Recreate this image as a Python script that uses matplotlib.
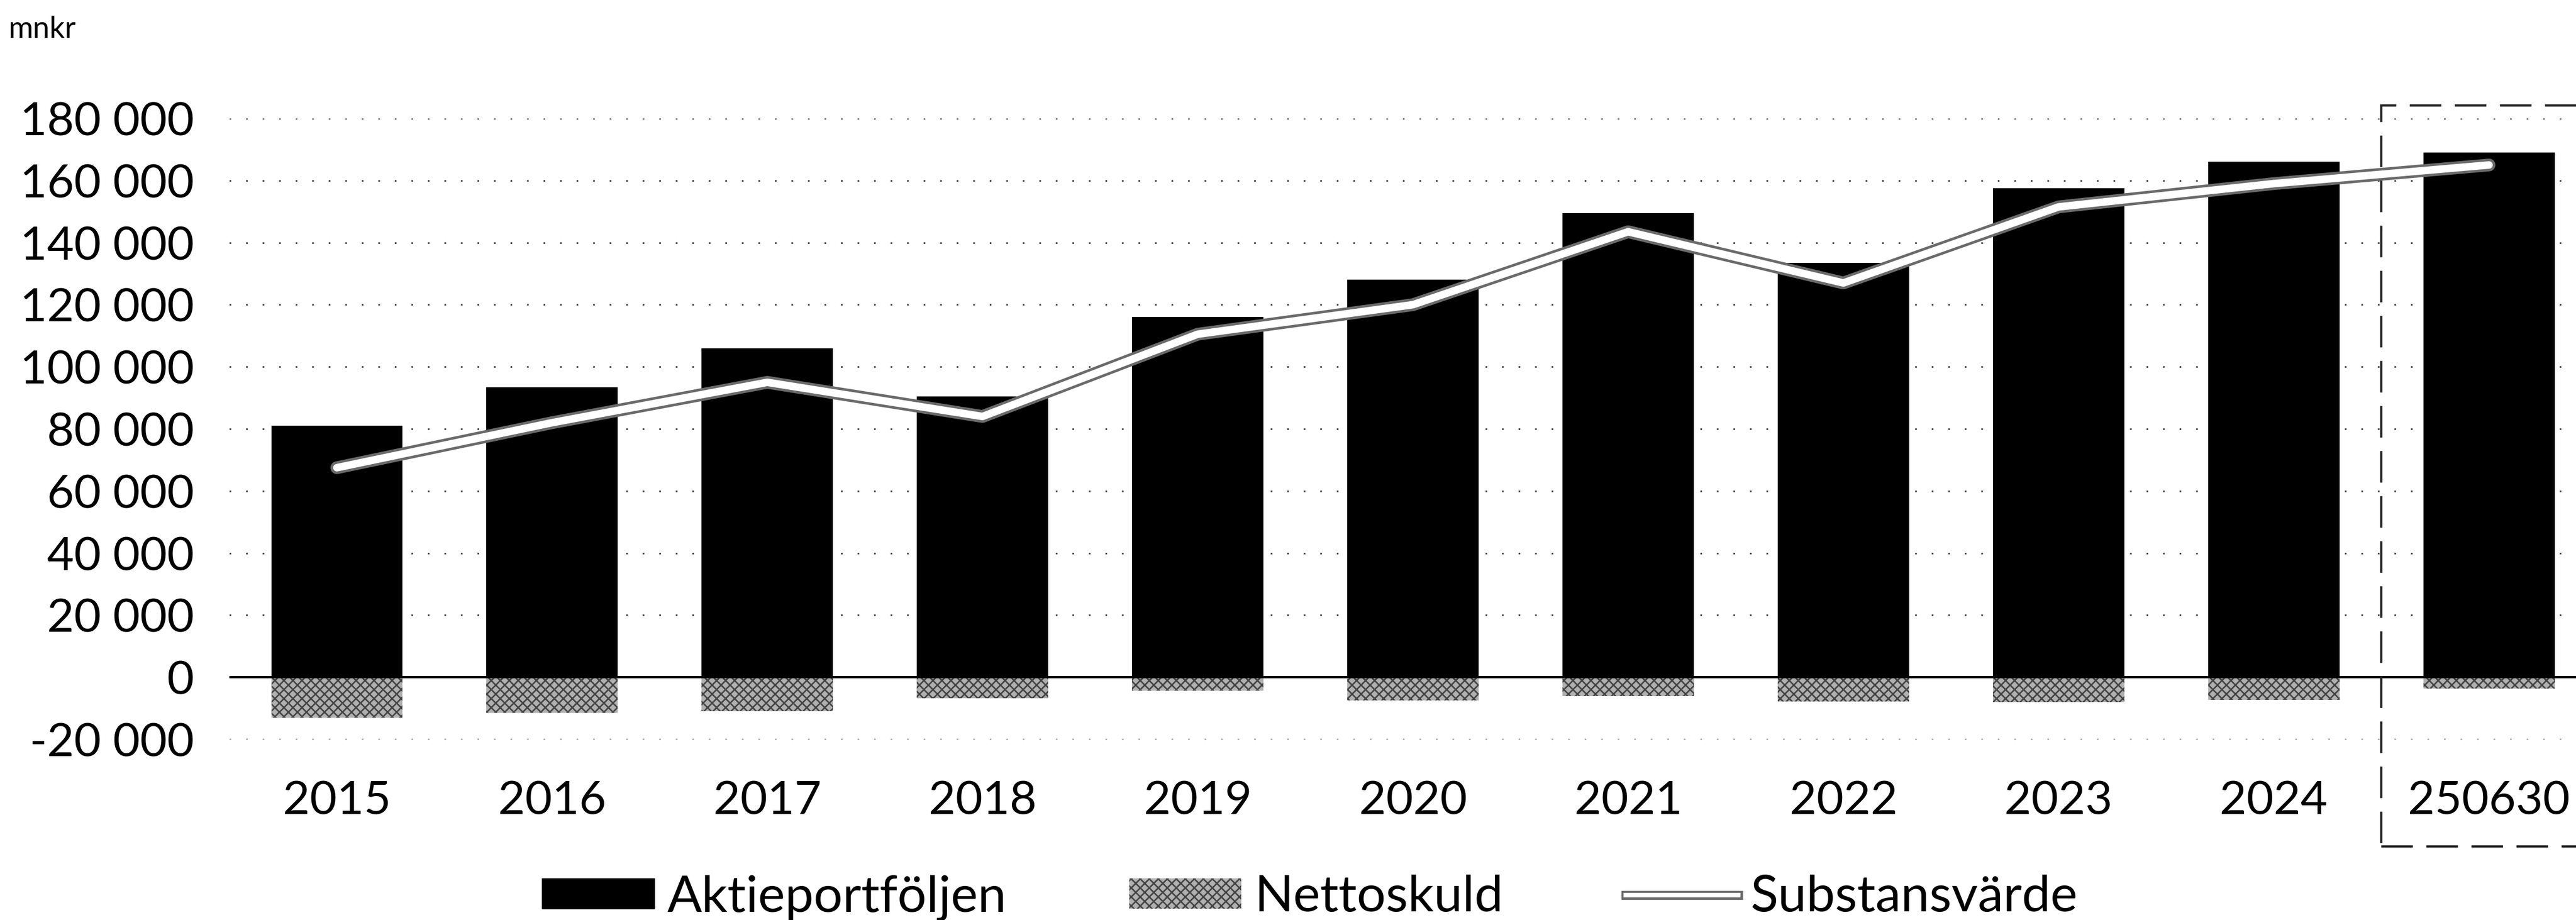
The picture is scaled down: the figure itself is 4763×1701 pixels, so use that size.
#!/usr/bin/env python
#
# Aktieportfoljen, nettoskuld och substansvarde 2015 - 250630
#
import numpy as np
import matplotlib
matplotlib.use("Agg")
from matplotlib import pyplot as plt
from matplotlib import patheffects as pe
from matplotlib.patches import Rectangle, Patch
from matplotlib.lines import Line2D

######################################################
# Data (mnkr)
######################################################
kategorier = ["2015", "2016", "2017", "2018", "2019", "2020",
              "2021", "2022", "2023", "2024", "250630"]

aktieportfoljen = [81000, 93500, 106000, 90500, 116000, 128000,
                   149500, 133500, 157500, 166000, 169000]
nettoskuld = [-13000, -11500, -11000, -6800, -4300, -7500,
              -6000, -7800, -8000, -7200, -3600]
substansvarde = [67500, 82000, 95000, 84000, 110500, 120000,
                 143500, 127000, 151500, 159000, 165000]

y_ticks = list(range(-20000, 180001, 20000))
y_labels = ["{:,}".format(v).replace(",", " ") for v in y_ticks]

######################################################
# Plot
######################################################
matplotlib.rcParams['font.family'] = ['Lato', 'DejaVu Sans']
matplotlib.rcParams['hatch.linewidth'] = 2.0

fig = plt.figure(figsize=(47.63, 17.01), dpi=100)
ax = fig.add_axes([0.0890, 0.1963, 0.919, 0.675])

x = np.arange(len(kategorier))
bar_w = 0.61
netto_face = '#b0b0b0'
netto_hatch = '#444444'

ax.bar(x, aktieportfoljen, width=bar_w, color='black', zorder=3)
ax.bar(x, nettoskuld, width=bar_w, color=netto_face, hatch='xx',
       edgecolor=netto_hatch, linewidth=0, zorder=3)

line_fx = [pe.Stroke(linewidth=17, foreground='#6a6a6a'), pe.Normal()]
ax.plot(x, substansvarde, color='white', lw=10, solid_capstyle='round',
        zorder=5, path_effects=line_fx)

# zero line and dotted grid
ax.axhline(0, color='black', lw=3, zorder=4)
ax.set_yticks(y_ticks)
ax.set_yticklabels(y_labels)
ax.yaxis.grid(True, linestyle=(0, (1, 9)), color='#444444', lw=2.2, zorder=0)
ax.set_axisbelow(True)

ax.set_xticks(x)
ax.set_xticklabels(kategorier)
ax.set_xlim(-0.5, len(kategorier) - 0.5)
ax.set_ylim(-20000, 180000)

for s in ax.spines.values():
    s.set_visible(False)
ax.tick_params(axis='y', length=0, labelsize=62, pad=47, labelcolor='black')
ax.tick_params(axis='x', length=0, labelsize=62, pad=54, labelcolor='black')

# dashed box round the last period
last = len(kategorier) - 1
box = Rectangle((last - 0.5, -54400), 2.0, 238500, fill=False,
                linestyle=(0, (14, 6)), lw=3, edgecolor='#222222',
                clip_on=False, zorder=6)
ax.add_patch(box)

fig.text(15 / 4763., 1 - 55 / 1701., "mnkr", fontsize=40, va='center',
         color='black')

handles = [Patch(facecolor='black', edgecolor='black'),
           Patch(facecolor=netto_face, hatch='xx', edgecolor=netto_hatch, lw=0),
           Line2D([0], [0], color='white', lw=6,
                  path_effects=[pe.Stroke(linewidth=12, foreground='#6a6a6a'),
                                pe.Normal()])]
labels = ["Aktieportföljen", "Nettoskuld", "Substansvärde"]
leg = fig.legend(handles, labels, loc='center left',
                 bbox_to_anchor=(1002 / 4763., 0.024),
                 ncol=3, frameon=False, fontsize=68, handlelength=2.2,
                 handleheight=0.55, handletextpad=0.25, columnspacing=2.4,
                 borderaxespad=0, borderpad=0)

fig.savefig("out.png", dpi=100)
